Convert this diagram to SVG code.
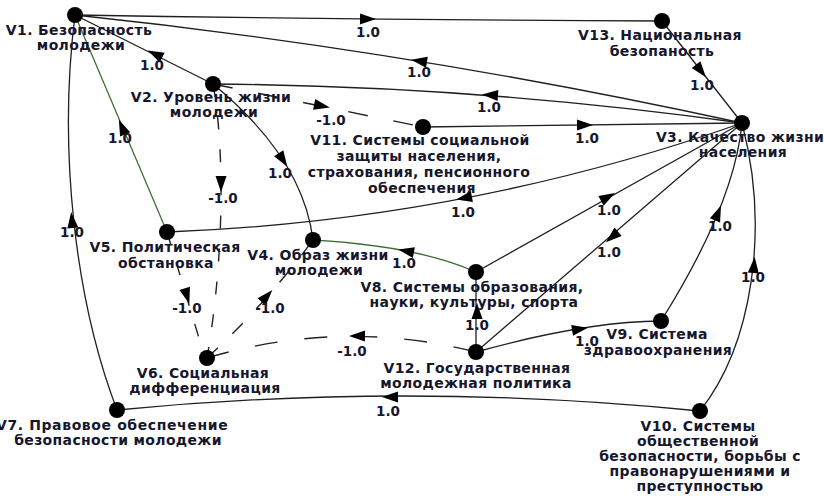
<svg xmlns="http://www.w3.org/2000/svg" xmlns:xlink="http://www.w3.org/1999/xlink" width="824" height="496" viewBox="0 0 824 496">
  <style>
    .edge { fill: none; stroke: #1f1f1f; stroke-width: 1.3; }
    .green { stroke: #3f6f34; }
    .dash { stroke: #222; stroke-width: 1.4; }
    .node { fill: #000; }
    text { font-family: "DejaVu Sans", "Liberation Sans", sans-serif; font-weight: bold; font-size: 14px; letter-spacing: 0.35px; fill: #16162c; text-anchor: middle; }
    .w { font-size: 13.5px; letter-spacing: 0; }
  </style>
  <defs>
    <path id="ah" d="M8,0 L-8,-5.5 L-8,5.5 Z" fill="#000"/>
  </defs>

  <rect width="824" height="496" fill="#fff"/>

  <g id="connectors">
    <!-- solid links -->
    <path class="edge" d="M75,15 Q368,20 662,21"/>
    <path class="edge" d="M742,123 Q408,50 75,15"/>
    <path class="edge" d="M213,84 L75,15"/>
    <path class="edge" d="M742,123 Q478,86 213,84"/>
    <path class="edge" d="M423,127 L742,123"/>
    <path class="edge" d="M662,21 L742,123"/>
    <path class="edge" d="M213,84 Q303,158 313,240"/>
    <path class="edge green" d="M167,232 L75,15"/>
    <path class="edge" d="M742,123 Q465.5,220.5 167,232"/>
    <path class="edge" d="M117,410 C75,300 58,150 75,15"/>
    <path class="edge green" d="M476,272 Q417.5,246 313,240"/>
    <path class="edge" d="M476,272 L742,123"/>
    <path class="edge" d="M742,123 L476,352"/>
    <path class="edge" d="M476,352 L476,272"/>
    <path class="edge" d="M476,352 Q585.5,321.5 661,321"/>
    <path class="edge" d="M661,321 Q734.5,204 742,123"/>
    <path class="edge" d="M700,411 C752,345 770,230 742,123"/>
    <path class="edge" d="M700,411 Q407.5,381.5 117,410"/>
    <!-- negative (dashed) links -->
    <path class="edge dash" stroke-dasharray="20 26" d="M213,84 L423,127"/>
    <path class="edge dash" stroke-dasharray="13 20" d="M213,84 C225,150 224,260 207,358"/>
    <path class="edge dash" stroke-dasharray="23 27" d="M476,352 Q341.5,318 207,358"/>
    <path class="edge dash" stroke-dasharray="13 19" d="M167,232 L205,358"/>
    <path class="edge dash" stroke-dasharray="15 20" d="M207,358 Q264,306 313,240"/>

    <!-- arrowheads -->
    <use xlink:href="#ah" transform="translate(368,19) rotate(0.6)"/>
    <use xlink:href="#ah" transform="translate(419,61) rotate(189)"/>
    <use xlink:href="#ah" transform="translate(155,54) rotate(206.6)"/>
    <use xlink:href="#ah" transform="translate(490,95) rotate(184)"/>
    <use xlink:href="#ah" transform="translate(322,106) rotate(11.6)"/>
    <use xlink:href="#ah" transform="translate(585,125) rotate(-0.7)"/>
    <use xlink:href="#ah" transform="translate(701,71) rotate(51.9)"/>
    <use xlink:href="#ah" transform="translate(221,184) rotate(90)"/>
    <use xlink:href="#ah" transform="translate(283,160) rotate(57.3)"/>
    <use xlink:href="#ah" transform="translate(122,127) rotate(247)"/>
    <use xlink:href="#ah" transform="translate(464,198) rotate(169.3)"/>
    <use xlink:href="#ah" transform="translate(72,220) rotate(264)"/>
    <use xlink:href="#ah" transform="translate(406,251) rotate(191)"/>
    <use xlink:href="#ah" transform="translate(608,197) rotate(-29.3)"/>
    <use xlink:href="#ah" transform="translate(612,237) rotate(139.3)"/>
    <use xlink:href="#ah" transform="translate(477,311) rotate(-90)"/>
    <use xlink:href="#ah" transform="translate(580,329) rotate(-9.5)"/>
    <use xlink:href="#ah" transform="translate(718,213) rotate(-67.8)"/>
    <use xlink:href="#ah" transform="translate(754,265) rotate(-85)"/>
    <use xlink:href="#ah" transform="translate(390,397) rotate(180)"/>
    <use xlink:href="#ah" transform="translate(357,336) rotate(180.6)"/>
    <use xlink:href="#ah" transform="translate(187,296) rotate(73.2)"/>
    <use xlink:href="#ah" transform="translate(267,296) rotate(-48)"/>

    <!-- weights -->
    <text class="w" x="368" y="37">1.0</text>
    <text class="w" x="419" y="77">1.0</text>
    <text class="w" x="152" y="70">1.0</text>
    <text class="w" x="489" y="112">1.0</text>
    <text class="w" x="331" y="125">-1.0</text>
    <text class="w" x="587" y="143">1.0</text>
    <text class="w" x="702" y="90">1.0</text>
    <text class="w" x="223" y="203">-1.0</text>
    <text class="w" x="280" y="178">1.0</text>
    <text class="w" x="120" y="143">1.0</text>
    <text class="w" x="463" y="217">1.0</text>
    <text class="w" x="72" y="237">1.0</text>
    <text class="w" x="404" y="268">1.0</text>
    <text class="w" x="609" y="215">1.0</text>
    <text class="w" x="609" y="257">1.0</text>
    <text class="w" x="477" y="330">1.0</text>
    <text class="w" x="587" y="346">1.0</text>
    <text class="w" x="720" y="231">1.0</text>
    <text class="w" x="753" y="282">1.0</text>
    <text class="w" x="388" y="416">1.0</text>
    <text class="w" x="352" y="356">-1.0</text>
    <text class="w" x="187" y="313">-1.0</text>
    <text class="w" x="270" y="313">-1.0</text>
  </g>

  <g id="V1">
    <circle class="node" cx="75" cy="15" r="8"/>
    <text x="79" y="35">V1. Безопасность</text>
    <text x="81" y="50">молодежи</text>
  </g>
  <g id="V2">
    <circle class="node" cx="213" cy="84" r="8"/>
    <text x="211" y="102">V2. Уровень жизни</text>
    <text x="214" y="117">молодежи</text>
  </g>
  <g id="V3">
    <circle class="node" cx="742" cy="123" r="8"/>
    <text x="740" y="142">V3. Качество жизни</text>
    <text x="743" y="157">населения</text>
  </g>
  <g id="V4">
    <circle class="node" cx="313" cy="240" r="8"/>
    <text x="318" y="260">V4. Образ жизни</text>
    <text x="319" y="275">молодежи</text>
  </g>
  <g id="V5">
    <circle class="node" cx="167" cy="232" r="8"/>
    <text x="165" y="252">V5. Политическая</text>
    <text x="166" y="268">обстановка</text>
  </g>
  <g id="V6">
    <circle class="node" cx="207" cy="358" r="8"/>
    <text x="203" y="378">V6. Социальная</text>
    <text x="205" y="393">дифференциация</text>
  </g>
  <g id="V7">
    <circle class="node" cx="117" cy="410" r="8"/>
    <text x="-4" y="430" textLength="232" style="text-anchor:start">V7. Правовое обеспечение</text>
    <text x="118" y="445">безопасности молодежи</text>
  </g>
  <g id="V8">
    <circle class="node" cx="476" cy="272" r="8"/>
    <text x="472" y="292">V8. Системы образования,</text>
    <text x="474" y="307">науки, культуры, спорта</text>
  </g>
  <g id="V9">
    <circle class="node" cx="661" cy="321" r="8"/>
    <text x="657" y="339">V9. Система</text>
    <text x="658" y="355">здравоохранения</text>
  </g>
  <g id="V10">
    <circle class="node" cx="700" cy="411" r="8"/>
    <text x="698" y="431">V10. Системы</text>
    <text x="698" y="446">общественной</text>
    <text x="700" y="461">безопасности, борьбы с</text>
    <text x="700" y="476">правонарушениями и</text>
    <text x="700" y="491">преступностью</text>
  </g>
  <g id="V11">
    <circle class="node" cx="423" cy="127" r="8"/>
    <text x="420" y="145">V11. Системы социальной</text>
    <text x="419" y="161">защиты населения,</text>
    <text x="419" y="177">страхования, пенсионного</text>
    <text x="422" y="193">обеспечения</text>
  </g>
  <g id="V12">
    <circle class="node" cx="476" cy="352" r="8"/>
    <text x="477" y="373">V12. Государственная</text>
    <text x="476" y="388">молодежная политика</text>
  </g>
  <g id="V13">
    <circle class="node" cx="662" cy="21" r="8"/>
    <text x="660" y="40">V13. Национальная</text>
    <text x="662" y="56">безопаность</text>
  </g>
</svg>
